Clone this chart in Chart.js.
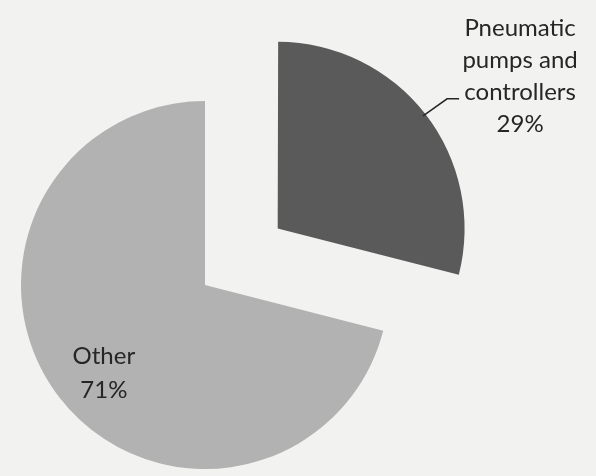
<!DOCTYPE html>
<html>
<head>
<meta charset="utf-8">
<script src="https://cdn.jsdelivr.net/npm/chart.js@4/dist/chart.umd.min.js"></script>
<style>
  html, body { margin: 0; padding: 0; background: #f2f2f1; }
  #wrap { width: 596px; height: 476px; position: relative; }
</style>
</head>
<body>
<div id="wrap"><canvas id="pieChart"></canvas></div>
<script>
// Emission sources and their share (%)
const categories = ['Pneumatic pumps and controllers', 'Other'];
const labelLines = [['Pneumatic', 'pumps and', 'controllers'], ['Other']];
const shares = [29, 71];
const sliceColors = ['#5a5a5a', '#b2b2b2'];

// Draws category + percent text for each slice
const sliceLabels = {
    id: 'sliceLabels',
    afterDatasetsDraw(chart) {
        const ctx = chart.ctx;
        const arcs = chart.getDatasetMeta(0).data;
        ctx.save();
        ctx.font = '24px Lato';
        ctx.fillStyle = '#262626';
        ctx.textAlign = 'center';
        ctx.textBaseline = 'alphabetic';

        arcs.forEach((arc, i) => {
            const p = arc.getProps(['x', 'y', 'startAngle', 'endAngle', 'outerRadius'], true);
            const mid = (p.startAngle + p.endAngle) / 2;
            // ArcElement shifts an exploded slice by offset / 4 along its bisector
            const shift = (arc.options.offset || 0) / 4;
            const x0 = p.x + Math.cos(mid) * shift;
            const y0 = p.y + Math.sin(mid) * shift;
            const lines = labelLines[i].concat([shares[i] + '%']);

            if (i === 0) {
                // outside label with a leader line
                const ex = x0 + Math.cos(mid) * p.outerRadius;
                const ey = y0 + Math.sin(mid) * p.outerRadius;
                const kx = ex + 24, ky = ey - 17;
                ctx.strokeStyle = '#262626';
                ctx.lineWidth = 1.5;
                ctx.beginPath();
                ctx.moveTo(ex, ey);
                ctx.lineTo(kx, ky);
                ctx.lineTo(kx + 12, ky);
                ctx.stroke();
                const cx = kx + 73;
                lines.forEach((t, j) => {
                    ctx.fillText(t, cx, ky + 1 + (j - 2) * 32);
                });
            } else {
                // inside label along the bisector
                const r = p.outerRadius * 0.73;
                const cx = x0 + Math.cos(mid) * r + 5;
                const cy = y0 + Math.sin(mid) * r;
                lines.forEach((t, j) => {
                    ctx.fillText(t, cx, cy + 14 + (j - 0.5) * 34);
                });
            }
        });
        ctx.restore();
    }
};

const ctx = document.getElementById('pieChart').getContext('2d');
const myPie = new Chart(ctx, {
    type: 'pie',
    data: {
        labels: categories,
        datasets: [{
            data: shares,
            backgroundColor: sliceColors,
            borderWidth: 0,
            offset: [368, 0], // pull the first slice out (drawn at offset / 4)
            hoverOffset: 0,
            clip: false
        }]
    },
    options: {
        responsive: true,
        maintainAspectRatio: false,
        animation: false,
        radius: 184,
        layout: {
            padding: { left: 0, right: 186, top: 94, bottom: 0 }
        },
        plugins: {
            legend: { display: false },
            tooltip: { enabled: false }
        }
    },
    plugins: [sliceLabels]
});
</script>
</body>
</html>
